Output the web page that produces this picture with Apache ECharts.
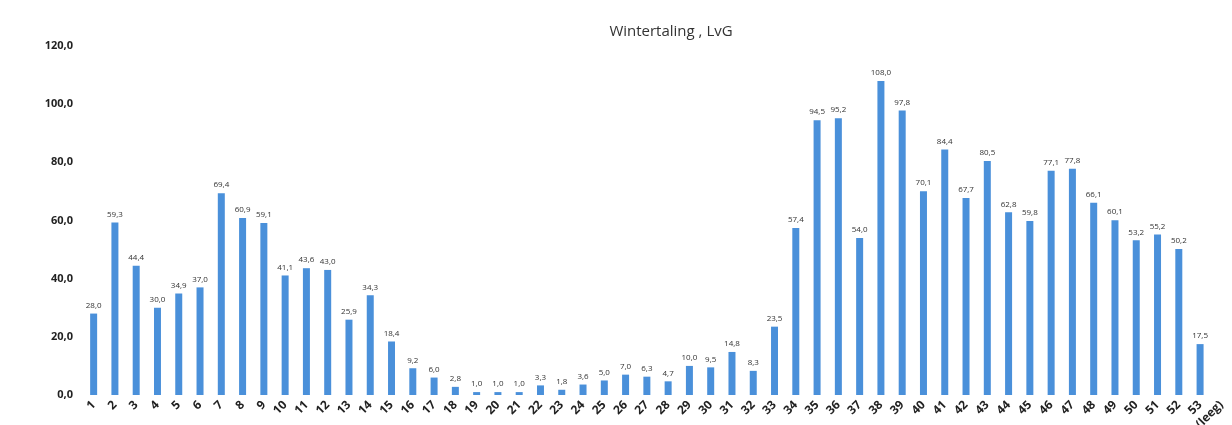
<!DOCTYPE html>
<html>
<head>
<meta charset="utf-8">
<script src="https://cdn.jsdelivr.net/npm/echarts@6/dist/echarts.min.js"></script>
<style>
  html, body { margin: 0; padding: 0; background: #fff; }
  #chart { width: 1232px; height: 425px; }
</style>
</head>
<body>
<div id="chart"></div>
<script>
// weeknummers + laatste (lege) categorie
var weeks = [];
for (var w = 1; w <= 53; w++) weeks.push(String(w));
weeks.push('(leeg)');

var counts = [
  28.0, 59.3, 44.4, 30.0, 34.9, 37.0, 69.4, 60.9, 59.1, 41.1,
  43.6, 43.0, 25.9, 34.3, 18.4, 9.2, 6.0, 2.8, 1.0, 1.0,
  1.0, 3.3, 1.8, 3.6, 5.0, 7.0, 6.3, 4.7, 10.0, 9.5,
  14.8, 8.3, 23.5, 57.4, 94.5, 95.2, 54.0, 108.0, 97.8, 70.1,
  84.4, 67.7, 80.5, 62.8, 59.8, 77.1, 77.8, 66.1, 60.1, 53.2,
  55.2, 50.2, 17.5, null
];

var yTicks = [0, 20, 40, 60, 80, 100, 120];

function nl(v) {
  return v.toFixed(1).replace('.', ',');
}

var chart = echarts.init(document.getElementById('chart'));
chart.setOption({
  animation: false,
  textStyle: { fontFamily: 'Open Sans, Liberation Sans, sans-serif' },
  title: {
    text: 'Wintertaling , LvG',
    left: 666,
    top: 19,
    textAlign: 'center',
    textStyle: { fontSize: 15, fontWeight: 'normal', color: '#333' }
  },
  grid: { left: 83, right: 0, top: 46, bottom: 30, outerBoundsMode: 'none' },
  xAxis: {
    type: 'category',
    data: weeks,
    axisLine: { show: false },
    axisTick: { show: false },
    axisLabel: {
      interval: 0,
      rotate: 45,
      margin: 8,
      fontSize: 12,
      fontWeight: 'bold',
      color: '#222'
    }
  },
  yAxis: {
    type: 'value',
    min: yTicks[0],
    max: yTicks[yTicks.length - 1],
    interval: 20,
    splitLine: { show: false },
    axisLine: { show: false },
    axisTick: { show: false },
    axisLabel: {
      margin: 10,
      fontSize: 11,
      fontWeight: 'bold',
      color: '#222',
      formatter: function(v) { return nl(v); }
    }
  },
  series: [{
    type: 'bar',
    data: counts,
    barWidth: 7,
    itemStyle: { color: '#4a90da' },
    label: {
      show: true,
      position: 'top',
      distance: 4,
      fontSize: 8,
      color: '#333',
      formatter: function(p) { return p.value == null ? '' : nl(p.value); }
    }
  }]
});
</script>
</body>
</html>
